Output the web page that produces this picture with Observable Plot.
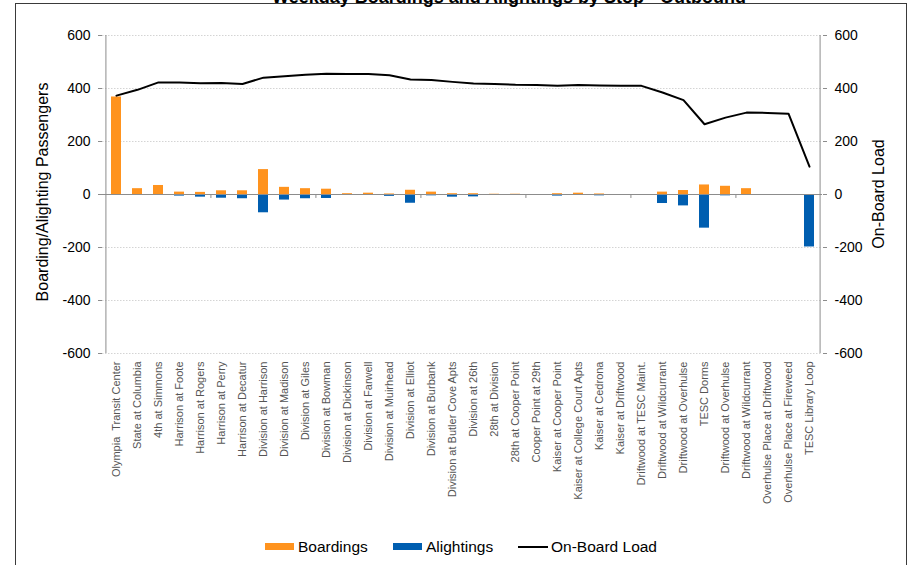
<!DOCTYPE html>
<html><head><meta charset="utf-8">
<script src="https://cdn.jsdelivr.net/npm/d3@7"></script>
<script src="https://cdn.jsdelivr.net/npm/@observablehq/plot@0.6"></script>
<style>
body{margin:0;background:#fff;font-family:"Liberation Sans",Arial,sans-serif;}
#wrap{position:relative;width:909px;height:565px;overflow:hidden;background:#fff;}
#border{position:absolute;left:15px;top:3px;width:892px;height:620px;border:1.5px solid #3a3a3a;box-sizing:border-box;}
#title{position:absolute;left:509px;top:-12px;transform:translateX(-50%);font-weight:bold;font-size:18px;line-height:18px;white-space:nowrap;color:#000;}
#chart{position:absolute;left:0;top:0;}
.ytitle{position:absolute;font-size:16px;line-height:16px;white-space:nowrap;color:#000;transform:translate(-50%,-50%) rotate(-90deg);}
.lg{position:absolute;top:538px;height:17px;display:flex;align-items:center;font-size:15.5px;color:#000;white-space:nowrap;}
.sw{display:inline-block;width:29px;height:7px;margin-right:4px;}
.ln{display:inline-block;width:30px;height:2px;background:#000;margin-right:3px;}
</style></head>
<body>
<div id="wrap">
  <div id="border"></div>
  <div id="title">Weekday Boardings and Alightings by Stop - Outbound</div>
  <div id="chart"></div>
  <div class="ytitle" style="left:43px;top:192px;">Boarding/Alighting Passengers</div>
  <div class="ytitle" style="left:879px;top:194px;">On-Board Load</div>
  <div class="lg" style="left:265px;"><span class="sw" style="background:#FF931E"></span>Boardings</div>
  <div class="lg" style="left:393px;"><span class="sw" style="background:#005EB0"></span>Alightings</div>
  <div class="lg" style="left:518px;"><span class="ln"></span>On-Board Load</div>
</div>
<script>
const stops = ["Olympia  Transit Center","State at Columbia","4th at Simmons","Harrison at Foote","Harrison at Rogers","Harrison at Perry","Harrison at Decatur","Division at Harrison","Division at Madison","Division at Giles","Division at Bowman","Division at Dickinson","Division at Farwell","Division at Muirhead","Division at Elliot","Division at Burbank","Division at Butler Cove Apts","Division at 26th","28th at Division","28th at Cooper Point","Cooper Point at 29th","Kaiser at Cooper Point","Kaiser at College Court Apts","Kaiser at Cedrona","Kaiser at Driftwood","Driftwood at TESC Maint.","Driftwood at Wildcurrant","Driftwood at Overhulse","TESC Dorms","Driftwood at Overhulse","Driftwood at Wildcurrant","Overhulse Place at Driftwood","Overhulse Place at Fireweed","TESC Library Loop"];
const boardings = [368,22,34,9,8,14,14,94,27,22,20,3,5,2,16,9,3,3,1,1,0,3,5,2,0,0,9,15,36,31,22,0,0,0];
const alightings = [3,0,2,6,10,14,16,69,21,16,15,3,0,7,33,5,10,9,2,2,0,6,1,5,0,0,34,43,127,5,0,0,0,198];
const onBoardLoad = [373,395,423,423,420,421,417,441,446,452,456,455,455,450,434,432,425,419,417,414,413,410,413,411,410,410,385,356,265,290,309,308,305,105];
const yTicks = [-600,-400,-200,0,200,400,600];
const xTickEvery = [5,10,15,20,25,30];

const W = 909, H = 530, mL = 102, mR = 87, mT = 35, mB = 177;
const idx = d3.range(stops.length);
const step = (W - mL - mR) / stops.length;
const axisColor = "#8c8c8c";
const fmtY = d => String(d);

const chart = Plot.plot({
  width: W, height: H,
  marginLeft: mL, marginRight: mR, marginTop: mT, marginBottom: mB,
  style: {fontFamily: '"Liberation Sans", Arial, sans-serif', background: "transparent", overflow: "visible", color: "#000"},
  x: {type: "band", domain: idx, paddingInner: 0.53, paddingOuter: 0.265, axis: null},
  y: {domain: [-600, 600], axis: null},
  marks: [
    Plot.ruleY(yTicks.filter(d => d !== 0), {stroke: "#d4d4d4", strokeDasharray: "1.5,1.5"}),
    Plot.barY(idx, {x: d => d, y: i => boardings[i], fill: "#FF931E"}),
    Plot.barY(idx, {x: d => d, y: i => -alightings[i], fill: "#005EB0"}),
    Plot.ruleY([0], {stroke: axisColor}),
    Plot.ruleX(xTickEvery, {y1: 0, y2: -15, dx: -step / 2, stroke: axisColor}),
    Plot.ruleX([0], {y1: -600, y2: 600, dx: -step / 2, stroke: axisColor}),
    Plot.ruleX([stops.length - 1], {y1: -600, y2: 600, dx: step / 2, stroke: axisColor}),
    Plot.lineY(idx, {x: d => d, y: i => onBoardLoad[i], stroke: "#000", strokeWidth: 2}),
    Plot.axisY({anchor: "left", ticks: yTicks, tickFormat: fmtY, tickSize: 4, tickPadding: 8, label: null, stroke: axisColor, fill: "#000", fontSize: 14}),
    Plot.axisY({anchor: "right", ticks: yTicks, tickFormat: fmtY, tickSize: 4, tickPadding: 8, label: null, stroke: axisColor, fill: "#000", fontSize: 14}),
    Plot.axisX({anchor: "bottom", tickSize: 0, tickPadding: 8, tickRotate: -90, tickFormat: i => stops[i], label: null, fill: "#555", fontSize: 11, fontFamily: '"Liberation Sans Narrow", "Liberation Sans", Arial, sans-serif'})
  ]
});
document.getElementById("chart").appendChild(chart);
</script>
</body></html>
